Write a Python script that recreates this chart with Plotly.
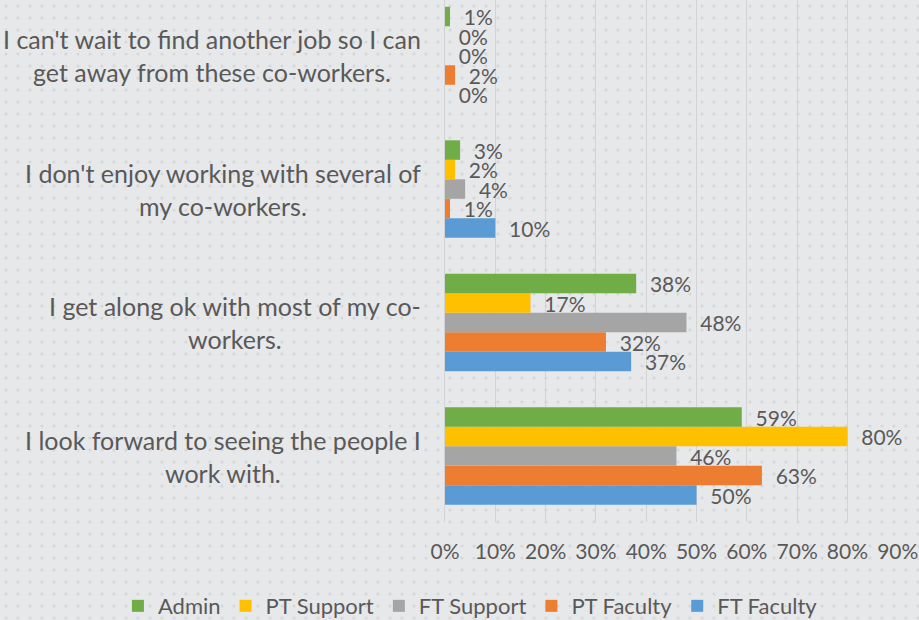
import base64
import plotly.graph_objects as go

# Categories from bottom (y=0) to top (y=3)
categories = [
    "I look forward to seeing the people I<br>work with.",
    "I get along ok with most of my co-<br>workers.",
    "I don't enjoy working with several of<br>my co-workers.",
    "I can't wait to find another job so I can<br>get away from these co-workers.",
]
cat_pos = [0, 1, 2, 3]

series_names = ["Admin", "PT Support", "FT Support", "PT Faculty", "FT Faculty"]
admin = [0.59, 0.38, 0.03, 0.01]
pt_support = [0.80, 0.17, 0.02, 0.00]
ft_support = [0.46, 0.48, 0.04, 0.00]
pt_faculty = [0.63, 0.32, 0.01, 0.02]
ft_faculty = [0.50, 0.37, 0.10, 0.00]
colors = ["#70ad47", "#ffc000", "#a5a5a5", "#ed7d31", "#5b9bd5"]

x_ticks = [0, 0.1, 0.2, 0.3, 0.4, 0.5, 0.6, 0.7, 0.8, 0.9]

FONT = "Lato"
TXT = "#595959"
BG = "#e7e8ea"

W, H = 919, 620
ML, MR, MT, MB = 445, 21, 0, 98
PW, PH = W - ML - MR, H - MT - MB

values = [admin, pt_support, ft_support, pt_faculty, ft_faculty]

fig = go.Figure()
# plotly draws the first trace at the bottom of a group -> add in reverse
for name, vals, col in reversed(list(zip(series_names, values, colors))):
    fig.add_trace(go.Bar(
        name=name,
        y=cat_pos,
        x=vals,
        orientation="h",
        marker=dict(color=col, line=dict(width=0)),
        texttemplate="\u00a0\u00a0%{x:.0%}",
        textposition="outside",
        constraintext="none",
        cliponaxis=False,
        textfont=dict(family=FONT, size=21, color=TXT),
        hoverinfo="skip",
    ))

for pos, cat in zip(cat_pos, categories):
    fig.add_annotation(
        x=0, xref="paper", y=pos, yref="y",
        text=cat, showarrow=False,
        xanchor="right", yanchor="middle", align="center",
        xshift=-22,
        font=dict(family=FONT, size=25, color=TXT),
    )

# subtle dotted background texture (decoration only)
svg = (
    f'<svg xmlns="http://www.w3.org/2000/svg" width="{W}" height="{H}">'
    '<defs><pattern id="p" width="12" height="12" patternUnits="userSpaceOnUse">'
    '<circle cx="6" cy="6" r="1.6" fill="#d6d7d9"/></pattern></defs>'
    f'<rect width="{W}" height="{H}" fill="{BG}"/>'
    f'<rect width="{W}" height="{H}" fill="url(#p)"/></svg>'
)
src = "data:image/svg+xml;base64," + base64.b64encode(svg.encode()).decode()
fig.add_layout_image(
    source=src, xref="paper", yref="paper",
    x=-ML / PW, y=1 + MT / PH, sizex=W / PW, sizey=H / PH,
    xanchor="left", yanchor="top", sizing="stretch", layer="below",
)

fig.update_layout(
    width=W, height=H,
    margin=dict(l=ML, r=MR, t=MT, b=MB, autoexpand=False),
    paper_bgcolor=BG,
    plot_bgcolor="rgba(0,0,0,0)",
    barmode="group",
    bargap=0.27,
    bargroupgap=0,
    showlegend=True,
    legend=dict(
        orientation="h", traceorder="reversed",
        x=-0.722, xanchor="left", y=-0.161, yanchor="middle",
        font=dict(family=FONT, size=22, color=TXT),
        itemwidth=30,
        bgcolor="rgba(0,0,0,0)",
    ),
    xaxis=dict(
        range=[0, 0.9005],
        tickvals=x_ticks,
        tickformat=".0%",
        showgrid=True, gridcolor="#d2d3d5", gridwidth=1,
        zeroline=False,
        showline=False,
        ticks="",
        ticklabelstandoff=15,
        tickfont=dict(family=FONT, size=21, color=TXT),
        automargin=False,
    ),
    yaxis=dict(
        range=[-0.494, 3.416],
        tickvals=cat_pos,
        showticklabels=False,
        showgrid=False,
        zeroline=False,
        showline=True, linecolor="#d2d3d5", linewidth=1,
        ticks="",
        automargin=False,
    ),
)

fig.write_html("out.html", config={"displayModeBar": False},
               post_script="document.body.style.margin='0';")
